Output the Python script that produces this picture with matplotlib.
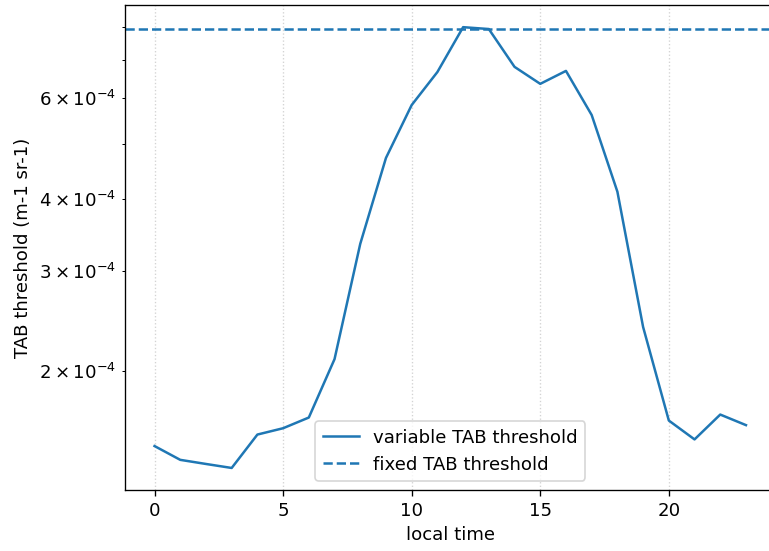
import numpy as np
import matplotlib
matplotlib.use("Agg")
import matplotlib.pyplot as plt

hours = list(range(24))
variable_tab = [1.48e-4, 1.40e-4, 1.377e-4, 1.355e-4, 1.55e-4, 1.59e-4, 1.66e-4, 2.10e-4,
                3.34e-4, 4.72e-4, 5.84e-4, 6.67e-4, 7.99e-4, 7.93e-4, 6.81e-4, 6.36e-4,
                6.70e-4, 5.61e-4, 4.12e-4, 2.39e-4, 1.64e-4, 1.52e-4, 1.68e-4, 1.61e-4]
fixed_tab = 7.93e-4

plt.rcParams["font.size"] = 10.9

fig = plt.figure(figsize=(769 / 120, 551 / 120), dpi=120)
ax = fig.add_axes([0.1625, 0.1107, 0.846, 0.880])

ax.plot(hours, variable_tab, color="C0", label="variable TAB threshold")
ax.axhline(fixed_tab, color="C0", linestyle="--", label="fixed TAB threshold")
ax.set_yscale("log")
ax.grid(axis="x", linestyle=":", color="lightgray")
ax.set_xlabel("local time")
ax.set_ylabel("TAB threshold (m-1 sr-1)")
ax.legend(loc="lower center")

fig.savefig("out.png", dpi=120)
